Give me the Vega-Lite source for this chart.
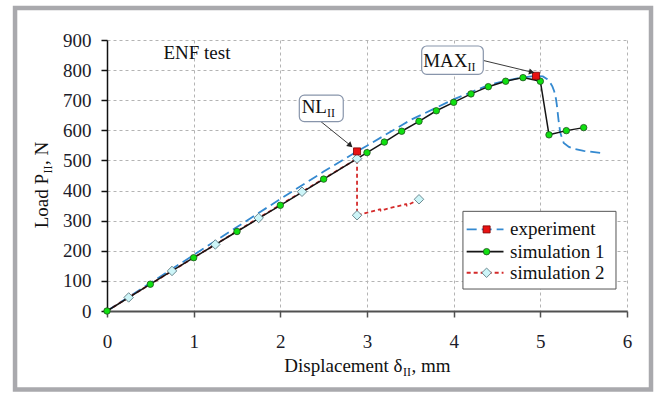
{
  "$schema": "https://vega.github.io/schema/vega-lite/v6.json",
  "width": 520,
  "height": 271,
  "autosize": {"type": "none"},
  "padding": {"left": 107, "top": 40, "right": 27, "bottom": 83},
  "background": "white",
  "config": {
    "view": {"stroke": null},
    "font": "Liberation Serif",
    "text": {"font": "Liberation Serif", "color": "#111111"},
    "style": {"guide-label": {"font": "Liberation Serif", "fontSize": 19, "fill": "#1c1c2a"}},
    "axis": {
      "labelFont": "Liberation Serif", "labelFontSize": 19, "labelColor": "#1c1c2a", "labelFlush": false,
      "grid": true, "gridColor": "#b4b4b4", "gridDash": [3, 3], "gridWidth": 1,
      "tickWidth": 1.5, "tickSize": 6
    },
    "axisX": {"domainColor": "#505050", "domainWidth": 2, "tickColor": "#505050", "labelPadding": 15},
    "axisY": {"domainColor": "#111111", "domainWidth": 1.5, "tickColor": "#111111", "labelPadding": 10}
  },
  "datasets": {
    "experiment": [
      {"x": 0, "y": 0}, {"x": 0.5, "y": 93}, {"x": 1, "y": 186}, {"x": 1.5, "y": 279},
      {"x": 2, "y": 372}, {"x": 2.5, "y": 463}, {"x": 2.885, "y": 530}, {"x": 3.0, "y": 549},
      {"x": 3.4, "y": 617}, {"x": 3.5, "y": 634}, {"x": 4.0, "y": 703}, {"x": 4.4, "y": 750},
      {"x": 4.6, "y": 765}, {"x": 4.8, "y": 776}, {"x": 4.95, "y": 781}, {"x": 5.03, "y": 779},
      {"x": 5.08, "y": 770}, {"x": 5.11, "y": 760}, {"x": 5.14, "y": 745}, {"x": 5.16, "y": 730},
      {"x": 5.18, "y": 705}, {"x": 5.19, "y": 685}, {"x": 5.21, "y": 634}, {"x": 5.23, "y": 592},
      {"x": 5.27, "y": 558}, {"x": 5.33, "y": 545}, {"x": 5.38, "y": 539}, {"x": 5.5, "y": 532},
      {"x": 5.69, "y": 525}
    ],
    "critical": [
      {"x": 2.885, "y": 530, "name": "NL"},
      {"x": 4.95, "y": 781, "name": "MAX"}
    ],
    "sim1": [
      {"x": 0, "y": 0}, {"x": 0.5, "y": 89}, {"x": 1, "y": 177}, {"x": 1.5, "y": 264},
      {"x": 2, "y": 351}, {"x": 2.5, "y": 438}, {"x": 3.0, "y": 526}, {"x": 3.2, "y": 561},
      {"x": 3.4, "y": 597}, {"x": 3.6, "y": 630}, {"x": 3.8, "y": 665}, {"x": 4.0, "y": 693},
      {"x": 4.2, "y": 721}, {"x": 4.4, "y": 745}, {"x": 4.6, "y": 763}, {"x": 4.8, "y": 775},
      {"x": 5.0, "y": 763}, {"x": 5.1, "y": 585}, {"x": 5.3, "y": 599}, {"x": 5.5, "y": 609}
    ],
    "sim2": [
      {"x": 0, "y": 0, "node": false},
      {"x": 0.25, "y": 45, "node": true}, {"x": 0.75, "y": 133, "node": true},
      {"x": 1.25, "y": 221, "node": true}, {"x": 1.75, "y": 309, "node": true},
      {"x": 2.25, "y": 396, "node": true}, {"x": 2.885, "y": 506, "node": true},
      {"x": 2.885, "y": 318, "node": true},
      {"x": 3.15, "y": 338, "node": false}, {"x": 3.16, "y": 333, "node": false},
      {"x": 3.2, "y": 337, "node": false}, {"x": 3.45, "y": 355, "node": false},
      {"x": 3.46, "y": 350, "node": false},
      {"x": 3.6, "y": 371, "node": true}
    ],
    "callouts": [
      {"name": "NL", "x": 2.219, "x2": 2.726, "y": 717, "y2": 629, "tx": 2.538, "ty": 656},
      {"name": "MAX", "x": 3.631, "x2": 4.342, "y": 880, "y2": 786, "tx": 4.16, "ty": 811}
    ],
    "arrows": [
      {"name": "NL", "x": 2.468, "y": 629, "x2": 2.80, "y2": 552},
      {"name": "MAX", "x": 4.342, "y": 832, "x2": 4.89, "y2": 794}
    ],
    "legend": [
      {"series": "experiment", "y": 271},
      {"series": "simulation 1", "y": 197},
      {"series": "simulation 2", "y": 127}
    ]
  },
  "layer": [
    {
      "data": {"values": [{}]},
      "mark": {"type": "rect", "fill": null, "stroke": "#a9a9ad", "strokeWidth": 4.5},
      "encoding": {
        "x": {"datum": -1.061, "type": "quantitative", "scale": {"domain": [0, 6], "nice": false, "zero": false},
              "axis": {"title": null, "values": [0, 1, 2, 3, 4, 5, 6], "format": "d", "labelFont": "Liberation Serif"}},
        "x2": {"datum": 6.277},
        "y": {"datum": 1006, "type": "quantitative", "scale": {"domain": [0, 900], "nice": false, "zero": false},
              "axis": {"title": null, "values": [0, 100, 200, 300, 400, 500, 600, 700, 800, 900], "format": "d", "labelFont": "Liberation Serif"}},
        "y2": {"datum": -261}
      }
    },
    {
      "data": {"name": "experiment"},
      "mark": {"type": "line", "color": "#3489d0", "strokeWidth": 1.8, "strokeDash": [10, 5]},
      "encoding": {
        "x": {"field": "x", "type": "quantitative", "axis": {"title": null, "values": [0, 1, 2, 3, 4, 5, 6], "format": "d", "labelFont": "Liberation Serif"}},
        "y": {"field": "y", "type": "quantitative", "axis": {"title": null, "values": [0, 100, 200, 300, 400, 500, 600, 700, 800, 900], "format": "d", "labelFont": "Liberation Serif"}},
        "order": {"value": null}
      }
    },
    {
      "data": {"name": "sim2"},
      "mark": {"type": "line", "color": "#d42a2a", "strokeWidth": 1.8, "strokeDash": [4, 3]},
      "encoding": {
        "x": {"field": "x", "type": "quantitative", "axis": {"title": null, "values": [0, 1, 2, 3, 4, 5, 6], "format": "d", "labelFont": "Liberation Serif"}},
        "y": {"field": "y", "type": "quantitative", "axis": {"title": null, "values": [0, 100, 200, 300, 400, 500, 600, 700, 800, 900], "format": "d", "labelFont": "Liberation Serif"}},
        "order": {"value": null}
      }
    },
    {
      "data": {"name": "sim1"},
      "mark": {"type": "line", "color": "#151515", "strokeWidth": 1.5},
      "encoding": {
        "x": {"field": "x", "type": "quantitative", "axis": {"title": null, "values": [0, 1, 2, 3, 4, 5, 6], "format": "d", "labelFont": "Liberation Serif"}},
        "y": {"field": "y", "type": "quantitative", "axis": {"title": null, "values": [0, 100, 200, 300, 400, 500, 600, 700, 800, 900], "format": "d", "labelFont": "Liberation Serif"}},
        "order": {"value": null}
      }
    },
    {
      "data": {"name": "sim1"},
      "mark": {"type": "point", "shape": "circle", "filled": true, "fill": "#10e010", "stroke": "#1f4f1f", "strokeWidth": 0.8, "size": 42, "opacity": 1},
      "encoding": {
        "x": {"field": "x", "type": "quantitative", "axis": {"title": null, "values": [0, 1, 2, 3, 4, 5, 6], "format": "d", "labelFont": "Liberation Serif"}},
        "y": {"field": "y", "type": "quantitative", "axis": {"title": null, "values": [0, 100, 200, 300, 400, 500, 600, 700, 800, 900], "format": "d", "labelFont": "Liberation Serif"}}
      }
    },
    {
      "data": {"name": "sim2"},
      "transform": [{"filter": "datum.node"}],
      "mark": {"type": "point", "shape": "diamond", "filled": true, "fill": "#cdf5f8", "stroke": "#5f7d84", "strokeWidth": 0.9, "size": 90, "opacity": 1},
      "encoding": {
        "x": {"field": "x", "type": "quantitative", "axis": {"title": null, "values": [0, 1, 2, 3, 4, 5, 6], "format": "d", "labelFont": "Liberation Serif"}},
        "y": {"field": "y", "type": "quantitative", "axis": {"title": null, "values": [0, 100, 200, 300, 400, 500, 600, 700, 800, 900], "format": "d", "labelFont": "Liberation Serif"}}
      }
    },
    {
      "data": {"name": "critical"},
      "mark": {"type": "point", "shape": "square", "filled": true, "fill": "#e81212", "stroke": "#7a0000", "strokeWidth": 0.8, "size": 50, "opacity": 1},
      "encoding": {
        "x": {"field": "x", "type": "quantitative", "axis": {"title": null, "values": [0, 1, 2, 3, 4, 5, 6], "format": "d", "labelFont": "Liberation Serif"}},
        "y": {"field": "y", "type": "quantitative", "axis": {"title": null, "values": [0, 100, 200, 300, 400, 500, 600, 700, 800, 900], "format": "d", "labelFont": "Liberation Serif"}}
      }
    },
    {
      "data": {"name": "arrows"},
      "mark": {"type": "rule", "color": "#3a3a3a", "strokeWidth": 1},
      "encoding": {
        "x": {"field": "x", "type": "quantitative", "axis": {"title": null, "values": [0, 1, 2, 3, 4, 5, 6], "format": "d", "labelFont": "Liberation Serif"}},
        "y": {"field": "y", "type": "quantitative", "axis": {"title": null, "values": [0, 100, 200, 300, 400, 500, 600, 700, 800, 900], "format": "d", "labelFont": "Liberation Serif"}},
        "x2": {"field": "x2"}, "y2": {"field": "y2"}
      }
    },
    {
      "data": {"name": "arrows"},
      "transform": [{"filter": "datum.name === 'NL'"}],
      "mark": {"type": "point", "shape": "triangle", "filled": true, "color": "#222222", "size": 40, "angle": 131, "opacity": 1},
      "encoding": {
        "x": {"field": "x2", "type": "quantitative", "axis": {"title": null, "values": [0, 1, 2, 3, 4, 5, 6], "format": "d", "labelFont": "Liberation Serif"}},
        "y": {"field": "y2", "type": "quantitative", "axis": {"title": null, "values": [0, 100, 200, 300, 400, 500, 600, 700, 800, 900], "format": "d", "labelFont": "Liberation Serif"}}
      }
    },
    {
      "data": {"name": "arrows"},
      "transform": [{"filter": "datum.name === 'MAX'"}],
      "mark": {"type": "point", "shape": "triangle", "filled": true, "color": "#222222", "size": 40, "angle": 103, "opacity": 1},
      "encoding": {
        "x": {"field": "x2", "type": "quantitative", "axis": {"title": null, "values": [0, 1, 2, 3, 4, 5, 6], "format": "d", "labelFont": "Liberation Serif"}},
        "y": {"field": "y2", "type": "quantitative", "axis": {"title": null, "values": [0, 100, 200, 300, 400, 500, 600, 700, 800, 900], "format": "d", "labelFont": "Liberation Serif"}}
      }
    },
    {
      "data": {"name": "callouts"},
      "mark": {"type": "rect", "fill": "white", "stroke": "#8895ab", "strokeWidth": 1.2, "cornerRadius": 5},
      "encoding": {
        "x": {"field": "x", "type": "quantitative", "axis": {"title": null, "values": [0, 1, 2, 3, 4, 5, 6], "format": "d", "labelFont": "Liberation Serif"}},
        "y": {"field": "y", "type": "quantitative", "axis": {"title": null, "values": [0, 100, 200, 300, 400, 500, 600, 700, 800, 900], "format": "d", "labelFont": "Liberation Serif"}},
        "x2": {"field": "x2"}, "y2": {"field": "y2"}
      }
    },
    {
      "data": {"name": "callouts"},
      "mark": {"type": "text", "align": "right", "baseline": "alphabetic", "fontSize": 19},
      "encoding": {
        "x": {"field": "tx", "type": "quantitative", "axis": {"title": null, "values": [0, 1, 2, 3, 4, 5, 6], "format": "d", "labelFont": "Liberation Serif"}},
        "y": {"field": "ty", "type": "quantitative", "axis": {"title": null, "values": [0, 100, 200, 300, 400, 500, 600, 700, 800, 900], "format": "d", "labelFont": "Liberation Serif"}},
        "text": {"field": "name"}
      }
    },
    {
      "data": {"name": "callouts"},
      "mark": {"type": "text", "align": "left", "baseline": "alphabetic", "fontSize": 12, "dy": 4, "text": "II"},
      "encoding": {
        "x": {"field": "tx", "type": "quantitative", "axis": {"title": null, "values": [0, 1, 2, 3, 4, 5, 6], "format": "d", "labelFont": "Liberation Serif"}},
        "y": {"field": "ty", "type": "quantitative", "axis": {"title": null, "values": [0, 100, 200, 300, 400, 500, 600, 700, 800, 900], "format": "d", "labelFont": "Liberation Serif"}}
      }
    },
    {
      "data": {"values": [{}]},
      "mark": {"type": "rect", "fill": "white", "stroke": "#555555", "strokeWidth": 1},
      "encoding": {
        "x": {"datum": 4.107, "type": "quantitative", "axis": {"title": null, "values": [0, 1, 2, 3, 4, 5, 6], "format": "d", "labelFont": "Liberation Serif"}},
        "x2": {"datum": 5.873},
        "y": {"datum": 331, "type": "quantitative", "axis": {"title": null, "values": [0, 100, 200, 300, 400, 500, 600, 700, 800, 900], "format": "d", "labelFont": "Liberation Serif"}},
        "y2": {"datum": 73}
      }
    },
    {
      "data": {"name": "legend"},
      "transform": [{"filter": "datum.series === 'experiment'"}],
      "mark": {"type": "rule", "color": "#3489d0", "strokeWidth": 1.8, "strokeDash": [10, 5]},
      "encoding": {
        "x": {"datum": 4.15, "type": "quantitative", "axis": {"title": null, "values": [0, 1, 2, 3, 4, 5, 6], "format": "d", "labelFont": "Liberation Serif"}}, "x2": {"datum": 4.575},
        "y": {"field": "y", "type": "quantitative", "axis": {"title": null, "values": [0, 100, 200, 300, 400, 500, 600, 700, 800, 900], "format": "d", "labelFont": "Liberation Serif"}}
      }
    },
    {
      "data": {"name": "legend"},
      "transform": [{"filter": "datum.series === 'simulation 1'"}],
      "mark": {"type": "rule", "color": "#151515", "strokeWidth": 1.8},
      "encoding": {
        "x": {"datum": 4.15, "type": "quantitative", "axis": {"title": null, "values": [0, 1, 2, 3, 4, 5, 6], "format": "d", "labelFont": "Liberation Serif"}}, "x2": {"datum": 4.575},
        "y": {"field": "y", "type": "quantitative", "axis": {"title": null, "values": [0, 100, 200, 300, 400, 500, 600, 700, 800, 900], "format": "d", "labelFont": "Liberation Serif"}}
      }
    },
    {
      "data": {"name": "legend"},
      "transform": [{"filter": "datum.series === 'simulation 2'"}],
      "mark": {"type": "rule", "color": "#d42a2a", "strokeWidth": 1.8, "strokeDash": [4, 3]},
      "encoding": {
        "x": {"datum": 4.15, "type": "quantitative", "axis": {"title": null, "values": [0, 1, 2, 3, 4, 5, 6], "format": "d", "labelFont": "Liberation Serif"}}, "x2": {"datum": 4.575},
        "y": {"field": "y", "type": "quantitative", "axis": {"title": null, "values": [0, 100, 200, 300, 400, 500, 600, 700, 800, 900], "format": "d", "labelFont": "Liberation Serif"}}
      }
    },
    {
      "data": {"name": "legend"},
      "transform": [{"filter": "datum.series === 'experiment'"}],
      "mark": {"type": "point", "shape": "square", "filled": true, "fill": "#e81212", "stroke": "#7a0000", "strokeWidth": 0.8, "size": 50, "opacity": 1},
      "encoding": {
        "x": {"datum": 4.38, "type": "quantitative", "axis": {"title": null, "values": [0, 1, 2, 3, 4, 5, 6], "format": "d", "labelFont": "Liberation Serif"}},
        "y": {"field": "y", "type": "quantitative", "axis": {"title": null, "values": [0, 100, 200, 300, 400, 500, 600, 700, 800, 900], "format": "d", "labelFont": "Liberation Serif"}}
      }
    },
    {
      "data": {"name": "legend"},
      "transform": [{"filter": "datum.series === 'simulation 1'"}],
      "mark": {"type": "point", "shape": "circle", "filled": true, "fill": "#10e010", "stroke": "#1f4f1f", "strokeWidth": 0.8, "size": 42, "opacity": 1},
      "encoding": {
        "x": {"datum": 4.38, "type": "quantitative", "axis": {"title": null, "values": [0, 1, 2, 3, 4, 5, 6], "format": "d", "labelFont": "Liberation Serif"}},
        "y": {"field": "y", "type": "quantitative", "axis": {"title": null, "values": [0, 100, 200, 300, 400, 500, 600, 700, 800, 900], "format": "d", "labelFont": "Liberation Serif"}}
      }
    },
    {
      "data": {"name": "legend"},
      "transform": [{"filter": "datum.series === 'simulation 2'"}],
      "mark": {"type": "point", "shape": "diamond", "filled": true, "fill": "#cdf5f8", "stroke": "#5f7d84", "strokeWidth": 0.9, "size": 90, "opacity": 1},
      "encoding": {
        "x": {"datum": 4.38, "type": "quantitative", "axis": {"title": null, "values": [0, 1, 2, 3, 4, 5, 6], "format": "d", "labelFont": "Liberation Serif"}},
        "y": {"field": "y", "type": "quantitative", "axis": {"title": null, "values": [0, 100, 200, 300, 400, 500, 600, 700, 800, 900], "format": "d", "labelFont": "Liberation Serif"}}
      }
    },
    {
      "data": {"name": "legend"},
      "mark": {"type": "text", "align": "left", "baseline": "middle", "fontSize": 19},
      "encoding": {
        "x": {"datum": 4.65, "type": "quantitative", "axis": {"title": null, "values": [0, 1, 2, 3, 4, 5, 6], "format": "d", "labelFont": "Liberation Serif"}},
        "y": {"field": "y", "type": "quantitative", "axis": {"title": null, "values": [0, 100, 200, 300, 400, 500, 600, 700, 800, 900], "format": "d", "labelFont": "Liberation Serif"}},
        "text": {"field": "series"}
      }
    },
    {
      "data": {"values": [{}]},
      "mark": {"type": "text", "text": "ENF test", "align": "center", "baseline": "middle", "fontSize": 19},
      "encoding": {
        "x": {"datum": 1.038, "type": "quantitative", "axis": {"title": null, "values": [0, 1, 2, 3, 4, 5, 6], "format": "d", "labelFont": "Liberation Serif"}},
        "y": {"datum": 857, "type": "quantitative", "axis": {"title": null, "values": [0, 100, 200, 300, 400, 500, 600, 700, 800, 900], "format": "d", "labelFont": "Liberation Serif"}}
      }
    },
    {
      "data": {"values": [{}]},
      "mark": {"type": "text", "text": "Displacement δ", "align": "right", "baseline": "alphabetic", "fontSize": 19},
      "encoding": {
        "x": {"datum": 3.41, "type": "quantitative", "axis": {"title": null, "values": [0, 1, 2, 3, 4, 5, 6], "format": "d", "labelFont": "Liberation Serif"}},
        "y": {"datum": -203, "type": "quantitative", "axis": {"title": null, "values": [0, 100, 200, 300, 400, 500, 600, 700, 800, 900], "format": "d", "labelFont": "Liberation Serif"}}
      }
    },
    {
      "data": {"values": [{}]},
      "mark": {"type": "text", "text": "II", "align": "left", "baseline": "alphabetic", "fontSize": 12, "dy": 4, "dx": 0.5},
      "encoding": {
        "x": {"datum": 3.41, "type": "quantitative", "axis": {"title": null, "values": [0, 1, 2, 3, 4, 5, 6], "format": "d", "labelFont": "Liberation Serif"}},
        "y": {"datum": -203, "type": "quantitative", "axis": {"title": null, "values": [0, 100, 200, 300, 400, 500, 600, 700, 800, 900], "format": "d", "labelFont": "Liberation Serif"}}
      }
    },
    {
      "data": {"values": [{}]},
      "mark": {"type": "text", "text": ", mm", "align": "left", "baseline": "alphabetic", "fontSize": 19, "dx": 9},
      "encoding": {
        "x": {"datum": 3.41, "type": "quantitative", "axis": {"title": null, "values": [0, 1, 2, 3, 4, 5, 6], "format": "d", "labelFont": "Liberation Serif"}},
        "y": {"datum": -203, "type": "quantitative", "axis": {"title": null, "values": [0, 100, 200, 300, 400, 500, 600, 700, 800, 900], "format": "d", "labelFont": "Liberation Serif"}}
      }
    },
    {
      "data": {"values": [{}]},
      "mark": {"type": "text", "text": "Load P", "align": "right", "baseline": "alphabetic", "fontSize": 19, "angle": 270},
      "encoding": {
        "x": {"datum": -0.681, "type": "quantitative", "axis": {"title": null, "values": [0, 1, 2, 3, 4, 5, 6], "format": "d", "labelFont": "Liberation Serif"}},
        "y": {"datum": 455, "type": "quantitative", "axis": {"title": null, "values": [0, 100, 200, 300, 400, 500, 600, 700, 800, 900], "format": "d", "labelFont": "Liberation Serif"}}
      }
    },
    {
      "data": {"values": [{}]},
      "mark": {"type": "text", "text": "II", "align": "left", "baseline": "alphabetic", "fontSize": 12, "angle": 270, "dy": 4, "dx": 0.5},
      "encoding": {
        "x": {"datum": -0.681, "type": "quantitative", "axis": {"title": null, "values": [0, 1, 2, 3, 4, 5, 6], "format": "d", "labelFont": "Liberation Serif"}},
        "y": {"datum": 455, "type": "quantitative", "axis": {"title": null, "values": [0, 100, 200, 300, 400, 500, 600, 700, 800, 900], "format": "d", "labelFont": "Liberation Serif"}}
      }
    },
    {
      "data": {"values": [{}]},
      "mark": {"type": "text", "text": ", N", "align": "left", "baseline": "alphabetic", "fontSize": 19, "angle": 270, "dx": 9},
      "encoding": {
        "x": {"datum": -0.681, "type": "quantitative", "axis": {"title": null, "values": [0, 1, 2, 3, 4, 5, 6], "format": "d", "labelFont": "Liberation Serif"}},
        "y": {"datum": 455, "type": "quantitative", "axis": {"title": null, "values": [0, 100, 200, 300, 400, 500, 600, 700, 800, 900], "format": "d", "labelFont": "Liberation Serif"}}
      }
    }
  ]
}
